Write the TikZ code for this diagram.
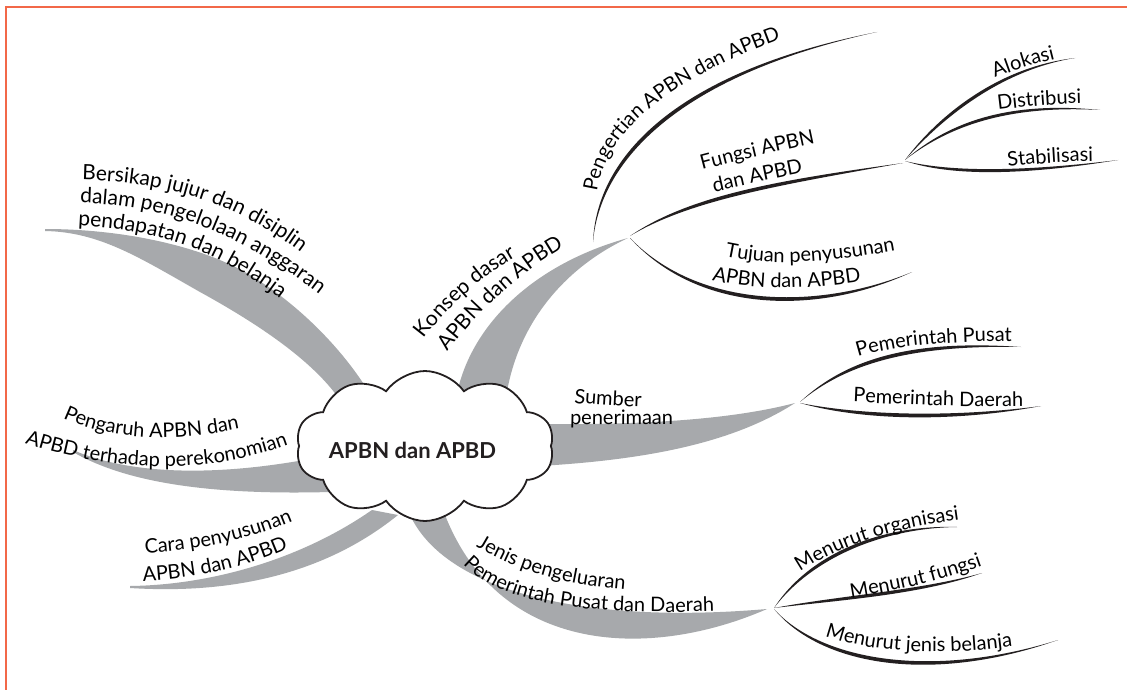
\documentclass[tikz,border=0pt]{standalone}
\usepackage{fontspec}
\setmainfont{Lato}
\usetikzlibrary{shapes.symbols,decorations.text,calc}
\definecolor{frameorange}{RGB}{242,104,72}
\definecolor{branchgrey}{RGB}{167,169,172}
\definecolor{inkgrey}{RGB}{35,31,32}
\newcommand\mapfont{\fontsize{20}{23}\selectfont}
\newcommand\mainmapfont{\fontsize{21}{24}\selectfont}
% tapered ink stroke: start, control 1, control 2, end, thickness offset
\newcommand\inkline[5]{\fill[inkgrey] (#1) .. controls (#2) and (#3) .. (#4) .. controls ($(#3)+(#5)$) and ($(#2)+(#5)$) .. (#1) -- cycle;}
\tikzset{
  along/.style={decorate, decoration={text along path, text align=left, text={|\mapfont|#1}}},
  alongbig/.style={decorate, decoration={text along path, text align=left, text={|\mainmapfont|#1}}},
  band/.style={fill=branchgrey},
  frameline/.style={draw=frameorange, line width=2pt},
}
\begin{document}
\begin{tikzpicture}[x=1pt,y=1pt]
\useasboundingbox (0,0) rectangle (1127,-690);
\fill[white] (0,0) rectangle (1127,-690);
\draw[frameline] (1127,-7) -- (6,-7) -- (6,-690);

% grey main branches
\fill[band] (45,-229) .. controls (120,-229) and (200,-245) .. (250,-275) .. controls (300,-305) and (350,-355) .. (378,-408) -- (345,-408) .. controls (320,-365) and (260,-325) .. (200,-292) .. controls (140,-258) and (100,-232) .. (45,-231) -- cycle;
\fill[band] (455,-405) .. controls (465,-330) and (530,-265) .. (628,-238) .. controls (570,-265) and (515,-320) .. (505,-405) -- cycle;
\fill[band] (540,-424) .. controls (640,-425) and (730,-420) .. (795,-403) .. controls (730,-445) and (640,-460) .. (540,-466) -- cycle;
\fill[band] (73,-450) .. controls (130,-475) and (220,-478) .. (330,-455) -- (330,-492) .. controls (220,-495) and (130,-485) .. (73,-452) -- cycle;
\fill[band] (130,-586) .. controls (210,-585) and (300,-560) .. (372,-510) -- (398,-515) .. controls (330,-570) and (240,-595) .. (130,-588) -- cycle;
\fill[band] (410,-515) .. controls (445,-590) and (580,-625) .. (767,-609) .. controls (650,-660) and (500,-655) .. (445,-515) -- cycle;

% central cloud
\node[cloud, cloud puffs=10, cloud puff arc=110, aspect=1.7, draw=inkgrey, line width=1.8pt, fill=white, minimum width=258pt, minimum height=150pt, inner sep=0pt] (core) at (425,-446) {};
\node[font=\fontsize{22}{26}\selectfont\bfseries, text=inkgrey] (title) at (412.5,-450) {APBN dan APBD};

% hubs of the sub-branches
\coordinate (hubKonsep) at (630,-237);
\coordinate (hubFungsi) at (905,-160);
\coordinate (hubSumber) at (800,-402);
\coordinate (hubJenis) at (774,-608);

% ink sub-branches
\inkline{593,-242}{600,-160}{680,-75}{877,-32}{-3.5,3.5}
\inkline{630,-236}{690,-200}{780,-185}{903,-163}{0,5}
\inkline{630,-238}{700,-310}{820,-310}{912,-272}{0,-5}
\inkline{905,-160}{940,-120}{1000,-70}{1075,-58}{-3,3}
\inkline{905,-160}{950,-125}{1010,-105}{1100,-110}{0,4}
\inkline{905,-161}{950,-172}{1020,-172}{1118,-160}{0,-4}
\inkline{800,-402}{850,-360}{920,-345}{1021,-347}{0,5}
\inkline{800,-403}{860,-415}{950,-418}{1041,-406}{0,-5}
\inkline{774,-608}{810,-560}{880,-528}{957,-527}{-3,3.5}
\inkline{774,-608}{840,-600}{920,-595}{982,-573}{0,4.5}
\inkline{774,-609}{820,-660}{930,-680}{1058,-640}{0,-5}

% labels along the branches
\path[alongbig={Bersikap jujur dan disiplin}] (82,-180) .. controls (170,-182) and (245,-203) .. (325,-272);
\path[alongbig={dalam pengelolaan anggaran}] (80,-203) .. controls (170,-205) and (250,-235) .. (345,-315);
\path[alongbig={pendapatan dan belanja}] (78,-226) .. controls (170,-230) and (230,-256) .. (300,-315);

\path[alongbig={Konsep dasar}] (424,-339) .. controls (455,-298) and (495,-262) .. (560,-236);
\path[alongbig={APBN dan APBD}] (448,-352) .. controls (480,-310) and (525,-262) .. (605,-226);

\path[along={Pengertian APBN dan APBD}] (597,-192) .. controls (606,-125) and (685,-62) .. (860,-14);
\path[along={Fungsi APBN}] (702,-170) .. controls (740,-160) and (780,-150) .. (850,-136);
\path[along={dan APBD}] (714,-192) .. controls (745,-185) and (775,-178) .. (840,-166);
\path[along={Tujuan penyusunan}] (725,-256) .. controls (780,-268) and (840,-262) .. (930,-244);
\path[along={APBN dan APBD}] (712,-280) .. controls (760,-292) and (820,-290) .. (895,-276);

\path[along={Alokasi}] (995,-78) .. controls (1015,-70) and (1035,-63) .. (1085,-52);
\path[along={Distribusi}] (998,-110) .. controls (1030,-106) and (1060,-103) .. (1115,-103);
\path[along={Stabilisasi}] (1008,-167) .. controls (1040,-163) and (1070,-161) .. (1125,-161);

\path[along={Sumber}] (574,-403) .. controls (600,-405) and (625,-407) .. (680,-408);
\path[along={penerimaan}] (570,-424) .. controls (610,-425) and (650,-425) .. (710,-425);
\path[along={Pemerintah Pusat}] (858,-357) .. controls (900,-344) and (960,-340) .. (1050,-342);
\path[along={Pemerintah Daerah}] (853,-402) .. controls (900,-404) and (960,-408) .. (1055,-406);

\path[along={Pengaruh APBN dan}] (63,-418) .. controls (110,-440) and (180,-447) .. (275,-420);
\path[along={APBD terhadap perekonomian}] (25,-443) .. controls (90,-465) and (200,-485) .. (310,-436);

\path[along={Cara penyusunan}] (145,-553) .. controls (200,-550) and (260,-540) .. (325,-506);
\path[along={APBN dan APBD}] (143,-581) .. controls (200,-578) and (250,-568) .. (315,-536);

\path[along={Jenis pengeluaran}] (476,-546) .. controls (520,-572) and (570,-590) .. (670,-592);
\path[along={Pemerintah Pusat dan Daerah}] (463,-564) .. controls (500,-603) and (580,-618) .. (750,-610);

\path[along={Menurut organisasi}] (800,-572) .. controls (840,-545) and (900,-525) .. (990,-516);
\path[along={Menurut fungsi}] (851,-598) .. controls (900,-590) and (950,-580) .. (1010,-555);
\path[along={Menurut jenis belanja}] (825,-636) .. controls (870,-652) and (950,-660) .. (1050,-640);
\end{tikzpicture}
\end{document}
